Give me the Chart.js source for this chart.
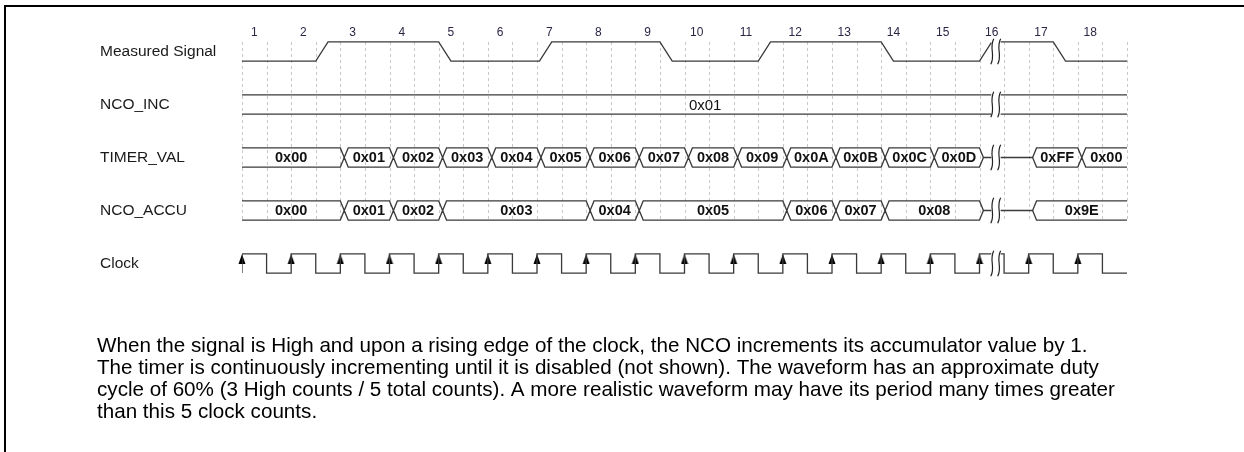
<!DOCTYPE html>
<html>
<head>
<meta charset="utf-8">
<title>NCO timing diagram</title>
<script src="https://cdn.jsdelivr.net/npm/chart.js@4.4.1/dist/chart.umd.min.js"></script>
<style>
  html, body { margin: 0; padding: 0; background: #fff; }
  canvas { display: block; }
</style>
</head>
<body>
<canvas id="timing" width="1244" height="452"></canvas>
<script>
// timing.js: NCO timing diagram drawn with Chart.js (times are in clock periods)

// 1. Diagram data
const clockLabels = ["1", "2", "3", "4", "5", "6", "7", "8", "9", "10", "11", "12", "13", "14", "15", "16", "17", "18"];
const rowNames = ["Measured Signal", "NCO_INC", "TIMER_VAL", "NCO_ACCU", "Clock"];

const clockRises = [0, 1, 2, 3, 4, 5, 6, 7, 8, 9, 10, 11, 12, 13, 14, 15, 16, 17];
const clockFalls = [0.5, 1.5, 2.5, 3.5, 4.5, 5.5, 6.5, 7.5, 8.5, 9.5, 10.5, 11.5, 12.5, 13.5, 14.5, 15.5, 16.5, 17.5];

const signalStart = 0; // starts low
const signalEdges = [1.5, 4.0, 6.05, 8.5, 10.5, 13.0, 15.0, 16.5];

const incTimes = [0];
const incValues = ["0x01"];

const timerTimes = [0, 2, 3, 4, 5, 6, 7, 8, 9, 10, 11, 12, 13, 14, 15, 16, 17];
const timerValues = ["0x00", "0x01", "0x02", "0x03", "0x04", "0x05", "0x06", "0x07", "0x08",
  "0x09", "0x0A", "0x0B", "0x0C", "0x0D", null, "0xFF", "0x00"];

const accuTimes = [0, 2, 3, 4, 7, 8, 11, 12, 13, 15, 16];
const accuValues = ["0x00", "0x01", "0x02", "0x03", "0x04", "0x05", "0x06", "0x07", "0x08", null, "0x9E"];

const captionLines = [
  "When the signal is High and upon a rising edge of the clock, the NCO increments its accumulator value by 1.",
  "The timer is continuously incrementing until it is disabled (not shown). The waveform has an approximate duty",
  "cycle of 60% (3 High counts / 5 total counts). A more realistic waveform may have its period many times greater",
  "than this 5 clock counts.",
];

// 2. Drawing constants
const END = 18;
const RAMP = 0.25;      // slope of the measured signal
const CROSS = 0.16;     // width of a bus crossing
const HALF = 0.18;      // half height of a row (row units)
const BREAK_FROM = 15.24;
const BREAK_TO = 15.43;
const INC_LABEL_AT = 9.42;
const LINE = "#3a3a3a";
const FONT = '"Liberation Sans", Arial, sans-serif';

// cut every line at the time break
function cutBreak(pts) {
  const out = [];
  for (let i = 0; i < pts.length; i++) {
    const p = pts[i];
    if (i > 0) {
      const q = pts[i - 1];
      if (q.y !== null && p.y !== null && p.x !== q.x) {
        const lerp = (v) => ({ x: v, y: q.y + (p.y - q.y) * (v - q.x) / (p.x - q.x) });
        if (q.x < BREAK_FROM && p.x > BREAK_FROM) {
          out.push(lerp(BREAK_FROM));
          out.push({ x: BREAK_FROM, y: null });
        }
        if (q.x < BREAK_TO && p.x > BREAK_TO) out.push(lerp(BREAK_TO));
      }
    }
    if (!(p.x > BREAK_FROM && p.x < BREAK_TO)) out.push(p);
  }
  return out;
}

function signalLine(row) {
  const lvl = (l) => row + (l ? -HALF : HALF);
  let level = signalStart;
  const pts = [{ x: 0, y: lvl(level) }];
  signalEdges.forEach((e) => {
    pts.push({ x: e, y: lvl(level) });
    level = 1 - level;
    pts.push({ x: e + RAMP, y: lvl(level) });
  });
  pts.push({ x: END, y: lvl(level) });
  return cutBreak(pts);
}

function busLines(row, times, values) {
  const T = row - HALF, B = row + HALF, M = row;
  const top = [], bot = [];
  times.forEach((t, i) => {
    const v = values[i];
    const c = t + CROSS / 2, e = t + CROSS;
    if (i === 0) {
      if (v !== null) { top.push({ x: t, y: T }); bot.push({ x: t, y: B }); }
      else { top.push({ x: t, y: M }); }
      return;
    }
    const prev = values[i - 1];
    if (prev !== null && v !== null) {
      top.push({ x: t, y: T }, { x: c, y: M }, { x: e, y: T });
      bot.push({ x: t, y: B }, { x: c, y: M }, { x: e, y: B });
    } else if (prev !== null) {
      top.push({ x: t, y: T }, { x: c, y: M });
      bot.push({ x: t, y: B }, { x: c, y: M }, { x: c, y: null });
    } else {
      top.push({ x: c, y: M }, { x: e, y: T });
      bot.push({ x: c, y: M }, { x: e, y: B });
    }
  });
  top.push({ x: END, y: T });
  bot.push({ x: END, y: B });
  return [cutBreak(top), cutBreak(bot)];
}

function clockLine(row) {
  const hi = row - HALF, lo = row + HALF;
  const pts = [];
  clockRises.forEach((r, i) => {
    pts.push({ x: r, y: lo }, { x: r, y: hi }, { x: clockFalls[i], y: hi }, { x: clockFalls[i], y: lo });
  });
  pts.push({ x: END, y: lo });
  return cutBreak(pts);
}

// arrow marker for rising clock edges (tip sits on the point)
const arrow = document.createElement("canvas");
arrow.width = 8;
arrow.height = 20;
(function () {
  const a = arrow.getContext("2d");
  a.fillStyle = "#000";
  a.beginPath();
  a.moveTo(4, 10);
  a.lineTo(0.5, 20);
  a.lineTo(7.5, 20);
  a.closePath();
  a.fill();
})();

const lineSet = (data) => ({
  type: "line", data: data, borderColor: LINE, borderWidth: 1.3,
  pointRadius: 0, tension: 0, spanGaps: false, fill: false,
});

const incL = busLines(1, incTimes, incValues);
const timerL = busLines(2, timerTimes, timerValues);
const accuL = busLines(3, accuTimes, accuValues);

const datasets = [
  lineSet(signalLine(0)),
  lineSet(incL[0]), lineSet(incL[1]),
  lineSet(timerL[0]), lineSet(timerL[1]),
  lineSet(accuL[0]), lineSet(accuL[1]),
  lineSet(clockLine(4)),
  {
    type: "scatter",
    data: clockRises.map((r) => ({ x: r, y: 4 - HALF })),
    pointStyle: arrow, pointRadius: 5, showLine: false, clip: false,
  },
];

// 3. Extra drawing: frame, dashed grid, bus values, break marks, caption
const diagramPlugin = {
  id: "diagram",
  beforeDatasetsDraw(chart) {
    const ctx = chart.ctx, x = chart.scales.x, y = chart.scales.y;
    ctx.save();
    ctx.strokeStyle = "#000";
    ctx.lineWidth = 2;
    ctx.beginPath();
    ctx.moveTo(5, chart.height);
    ctx.lineTo(5, 6);
    ctx.lineTo(chart.width, 6);
    ctx.stroke();

    ctx.strokeStyle = "#c8c8c8";
    ctx.lineWidth = 1;
    ctx.setLineDash([3, 3]);
    const y0 = y.getPixelForValue(-HALF), y1 = y.getPixelForValue(3 + HALF) + 2;
    for (let v = 0; v <= END; v += 0.5) {
      const px = Math.round(x.getPixelForValue(v)) + 0.5;
      ctx.beginPath();
      ctx.moveTo(px, y0);
      ctx.lineTo(px, y1);
      ctx.stroke();
    }
    ctx.restore();
  },
  afterDatasetsDraw(chart) {
    const ctx = chart.ctx, x = chart.scales.x, y = chart.scales.y;
    ctx.save();
    ctx.fillStyle = "#111";
    ctx.textAlign = "center";
    ctx.textBaseline = "middle";

    ctx.font = "15px " + FONT;
    ctx.fillText(incValues[0], x.getPixelForValue(INC_LABEL_AT), y.getPixelForValue(1) + 1);

    ctx.font = "bold 14.5px " + FONT;
    [[2, timerTimes, timerValues], [3, accuTimes, accuValues]].forEach(([row, times, values]) => {
      times.forEach((t, i) => {
        if (values[i] === null) return;
        const s = i === 0 ? t : t + CROSS;
        const e = i + 1 < times.length ? times[i + 1] : END;
        ctx.fillText(values[i], x.getPixelForValue((s + e) / 2), y.getPixelForValue(row) + 0.5);
      });
    });

    // break marks
    ctx.strokeStyle = "#222";
    ctx.lineWidth = 1.2;
    for (let row = 0; row < rowNames.length; row++) {
      const ya = y.getPixelForValue(row - 0.24), yb = y.getPixelForValue(row + 0.24);
      const h = yb - ya;
      [BREAK_FROM + 0.02, BREAK_TO - 0.03].forEach((b) => {
        const px = x.getPixelForValue(b);
        ctx.beginPath();
        ctx.moveTo(px + 1.5, ya);
        ctx.bezierCurveTo(px - 3.5, ya + h * 0.35, px + 3.5, yb - h * 0.35, px - 1.5, yb);
        ctx.stroke();
      });
    }
    ctx.restore();
  },
  afterDraw(chart) {
    const ctx = chart.ctx;
    ctx.save();
    ctx.font = "16px " + FONT;
    const widest = Math.max(...captionLines.map((l) => ctx.measureText(l).width));
    const size = 16 * 1018 / widest;
    ctx.font = size.toFixed(2) + "px " + FONT;
    ctx.fillStyle = "#000";
    ctx.textAlign = "left";
    ctx.textBaseline = "middle";
    captionLines.forEach((line, i) => ctx.fillText(line, 97, 346 + i * 22));
    ctx.restore();
  },
};

// 4. Chart config
const config = {
  type: "line",
  data: { datasets: datasets },
  options: {
    responsive: false,
    animation: false,
    events: [],
    layout: { padding: { left: 100, right: 117, top: 6, bottom: 162 } },
    plugins: { legend: { display: false }, tooltip: { enabled: false } },
    scales: {
      x: { type: "linear", min: 0, max: END, display: false },
      x2: {
        type: "linear", position: "top", min: 0, max: END,
        grid: { display: false, drawTicks: false },
        border: { display: false },
        afterBuildTicks: (scale) => {
          scale.ticks = clockRises.map((r, i) => ({ value: (r + clockFalls[i]) / 2 }));
        },
        afterFit: (scale) => { scale.height = 34.9; },
        ticks: {
          autoSkip: false, maxRotation: 0, padding: 1,
          color: "#2e2446", font: { family: FONT, size: 12 },
          callback: (v, i) => clockLabels[i],
        },
      },
      y: {
        type: "linear", position: "left", reverse: true, min: -0.2, max: 4.5,
        grid: { display: false },
        border: { display: false },
        afterBuildTicks: (scale) => {
          scale.ticks = rowNames.map((n, i) => ({ value: i }));
        },
        afterFit: (scale) => { scale.width = 142; },
        ticks: {
          autoSkip: false, crossAlign: "far",
          color: "#1a1a1a", font: { family: FONT, size: 15.5 },
          callback: (v) => rowNames[v],
        },
      },
    },
  },
  plugins: [diagramPlugin],
};

// 5. Create and render the chart
const ctx = document.getElementById("timing").getContext("2d");
const timingChart = new Chart(ctx, config);
</script>
</body>
</html>
